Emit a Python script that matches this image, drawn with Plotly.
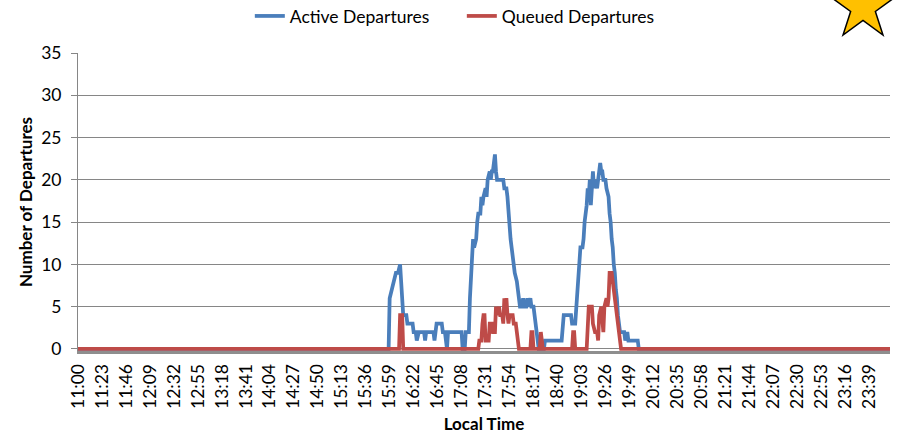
import math
import plotly.graph_objects as go

# ---------------- data ----------------
active_times = [
    "11:00", "15:58", "15:59", "16:01", "16:03", "16:05", "16:07", "16:09", "16:10", "16:11",
    "16:12", "16:15", "16:16", "16:21", "16:22", "16:24", "16:25", "16:27", "16:32", "16:33",
    "16:34", "16:41", "16:42", "16:43", "16:44", "16:49", "16:50", "16:52", "16:53", "16:54",
    "16:55", "17:08", "17:09", "17:11", "17:12", "17:15", "17:16", "17:18", "17:19", "17:20",
    "17:22", "17:23", "17:24", "17:26", "17:27", "17:28", "17:29", "17:31", "17:32", "17:33",
    "17:35", "17:36", "17:37", "17:38", "17:39", "17:40", "17:41", "17:42", "17:44", "17:48",
    "17:49", "17:51", "17:52", "17:53", "17:54", "17:55", "17:56", "17:57", "17:58", "17:59",
    "18:01", "18:02", "18:03", "18:04", "18:06", "18:07", "18:08", "18:10", "18:11", "18:12",
    "18:14", "18:15", "18:17", "18:18", "18:19", "18:20", "18:21", "18:22", "18:27", "18:28",
    "18:44", "18:45", "18:46", "18:53", "18:54", "18:57", "18:58", "19:00", "19:01", "19:02",
    "19:04", "19:05", "19:06", "19:07", "19:08", "19:09", "19:10", "19:11", "19:12", "19:13",
    "19:14", "19:15", "19:16", "19:18", "19:19", "19:21", "19:22", "19:23", "19:24", "19:26",
    "19:27", "19:29", "19:30", "19:31", "19:32", "19:33", "19:34", "19:35", "19:36", "19:37",
    "19:38", "19:39", "19:40", "19:44", "19:45", "19:47", "19:48", "19:57", "19:58", "23:59",
]
active_values = [
    0, 0, 6, 7, 8, 9, 9, 10, 8, 5,
    4, 4, 3, 3, 2, 2, 1, 2, 2, 1,
    2, 2, 1, 2, 3, 3, 2, 2, 1, 0,
    2, 2, 0, 0, 2, 2, 6, 11, 13, 12,
    13, 15, 16, 16, 18, 17, 18, 19, 18, 20,
    21, 20, 21, 21, 22, 23, 21, 20, 20, 20,
    19, 19, 18, 16, 15, 13, 12, 11, 10, 9,
    8, 7, 6, 5, 5, 6, 5, 5, 6, 5,
    6, 5, 5, 4, 3, 2, 1, 0, 0, 1,
    1, 3, 4, 4, 3, 3, 5, 8, 10, 12,
    12, 13, 15, 16, 17, 19, 18, 20, 17, 19,
    21, 19, 20, 19, 20, 22, 21, 21, 20, 20,
    19, 18, 16, 15, 13, 12, 10, 9, 7, 6,
    4, 3, 2, 2, 1, 2, 1, 1, 0, 0,
]

queued_times = [
    "11:00", "16:08", "16:09", "16:11", "16:12", "17:24", "17:25", "17:27", "17:28", "17:29",
    "17:30", "17:31", "17:34", "17:35", "17:37", "17:38", "17:40", "17:41", "17:42", "17:44",
    "17:45", "17:47", "17:48", "17:49", "17:50", "17:51", "17:52", "17:53", "17:54", "17:57",
    "17:58", "18:00", "18:01", "18:02", "18:03", "18:14", "18:15", "18:16", "18:17", "18:23",
    "18:24", "18:25", "18:26", "18:54", "18:55", "18:56", "18:57", "19:08", "19:10", "19:13",
    "19:14", "19:16", "19:18", "19:19", "19:20", "19:22", "19:23", "19:24", "19:25", "19:27",
    "19:28", "19:29", "19:30", "19:32", "19:33", "19:35", "19:37", "19:38", "19:40", "19:41",
    "23:59",
]
queued_values = [
    0, 0, 4, 4, 0, 0, 1, 1, 3, 4,
    4, 1, 1, 3, 3, 2, 2, 5, 4, 5,
    4, 4, 3, 6, 5, 6, 4, 3, 4, 4,
    3, 3, 2, 1, 0, 0, 2, 2, 0, 0,
    2, 1, 0, 0, 2, 2, 0, 0, 5, 5,
    3, 2, 2, 1, 4, 5, 3, 2, 5, 6,
    5, 6, 9, 9, 8, 6, 4, 3, 1, 0,
    0,
]

tick_labels = [
    "11:00", "11:23", "11:46", "12:09", "12:32", "12:55", "13:18", "13:41", "14:04", "14:27",
    "14:50", "15:13", "15:36", "15:59", "16:22", "16:45", "17:08", "17:31", "17:54", "18:17",
    "18:40", "19:03", "19:26", "19:49", "20:12", "20:35", "20:58", "21:21", "21:44", "22:07",
    "22:30", "22:53", "23:16", "23:39",
]
y_ticks = [0, 5, 10, 15, 20, 25, 30, 35]

series_names = ["Active Departures", "Queued Departures"]
x_title = "Local Time"
y_title = "Number of Departures"

# ---------------- figure ----------------
DAY = "2000-01-01 "


def ts(t):
    return DAY + t + ":00"


W, H = 902, 434
ML, MR, MT, MB = 78, 12, 53, 83
FONT = "Lato"
FS = 17.5

fig = go.Figure()
fig.add_trace(go.Scatter(
    x=[ts(t) for t in active_times], y=active_values, mode="lines",
    name=series_names[0], line=dict(color="#4A7EBB", width=3.75),
))
fig.add_trace(go.Scatter(
    x=[ts(t) for t in queued_times], y=queued_values, mode="lines",
    name=series_names[1], line=dict(color="#BE4B48", width=3.75),
))

# decorative star (top right), in paper coordinates
pw, ph = W - ML - MR, H - MT - MB


def to_paper(px, py):
    return (px - ML) / pw, (H - MB - py) / ph


cx, cy, R, r = 863, 7.5, 34, 13
pts = []
for k in range(10):
    ang = math.radians(-90 + 36 * k)
    rad = R if k % 2 == 0 else r
    pts.append(to_paper(cx + rad * math.cos(ang), cy + rad * math.sin(ang)))
path = "M " + " L ".join(f"{x:.5f},{y:.5f}" for x, y in pts) + " Z"
fig.add_shape(type="path", path=path, xref="paper", yref="paper",
              fillcolor="#FFC000", line=dict(color="black", width=1.5), layer="above")

fig.update_layout(
    width=W, height=H,
    margin=dict(l=ML, r=MR, t=MT, b=MB, autoexpand=False),
    plot_bgcolor="white", paper_bgcolor="white",
    font=dict(family=FONT, size=FS, color="black"),
    showlegend=True,
    legend=dict(orientation="h", xref="container", x=0.512, xanchor="center",
                yref="container", y=0.963, yanchor="middle", entrywidth=167,
                font=dict(family=FONT, size=FS, color="black"),
                bgcolor="rgba(0,0,0,0)"),
    xaxis=dict(
        type="date", range=[ts("11:00"), ts("23:59")],
        tickmode="array", tickvals=[ts(t) for t in tick_labels], ticktext=tick_labels,
        tickangle=-90, showgrid=False, zeroline=False,
        showline=True, linecolor="#8E8E8E", linewidth=3, ticks="",
        ticklabelstandoff=3,
        tickfont=dict(family=FONT, size=FS, color="black"),
        title=dict(text="<b>" + x_title + "</b>", font=dict(family=FONT, size=17, color="black"),
                   standoff=11),
    ),
    yaxis=dict(
        range=[-0.24, 35], tickmode="array", tickvals=y_ticks,
        showgrid=True, gridcolor="#868686", gridwidth=1, zeroline=False,
        showline=True, linecolor="#868686", linewidth=1,
        ticks="outside", ticklen=6, tickcolor="#868686", tickwidth=1,
        ticklabelstandoff=6,
        tickfont=dict(family=FONT, size=FS, color="black"),
        title=dict(text="<b>" + y_title + "</b>", font=dict(family=FONT, size=17, color="black"),
                   standoff=4),
    ),
)

# remove the browser's default 8px body margin so the figure fills the window
fig.write_html("out.html", config={"displayModeBar": False},
               post_script="document.body.style.margin='0';")
